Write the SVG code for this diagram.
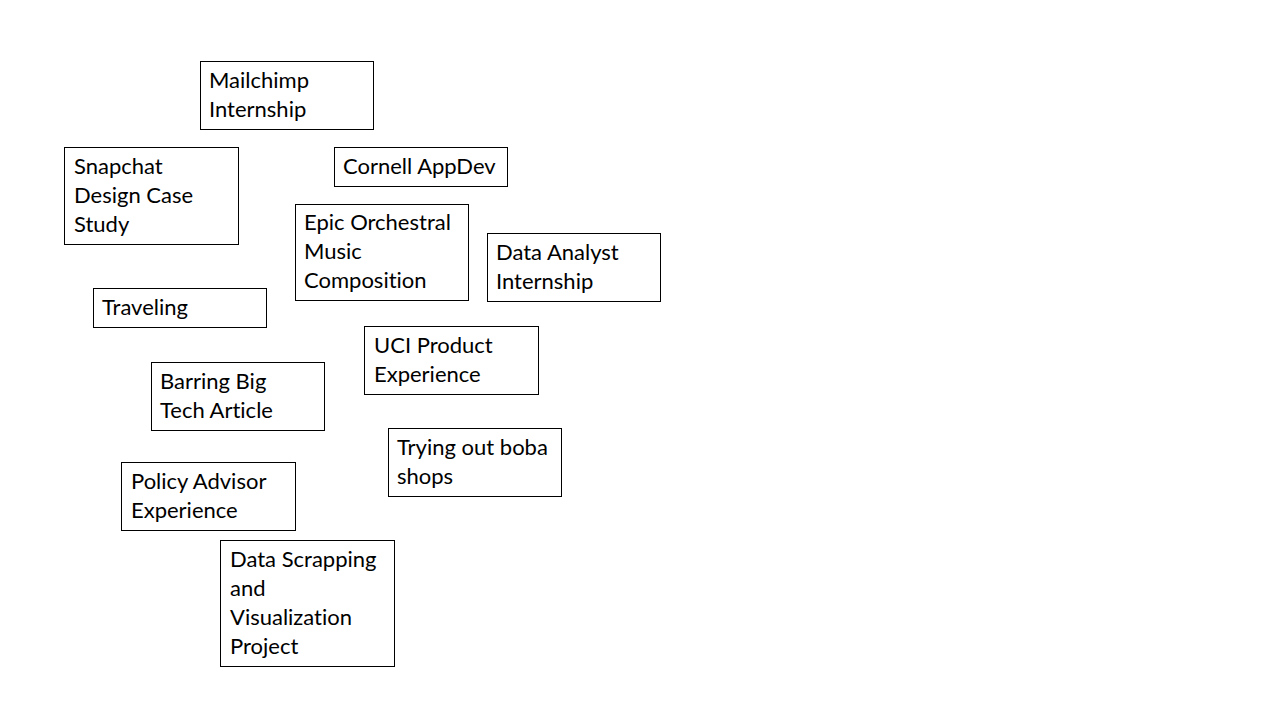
<svg xmlns="http://www.w3.org/2000/svg" width="1280" height="720" viewBox="0 0 1280 720">
<style>
.box{fill:#fff;stroke:#000;stroke-width:1}
.t{font-family:Lato,"Liberation Sans",sans-serif;font-size:22px;fill:#000;font-variant-ligatures:none}
</style>
<rect width="1280" height="720" fill="#fff"/>
<g id="connectors"/>
<g id="mailchimp"><rect class="box" x="200.5" y="61.5" width="173" height="68"/><text class="t" x="209" y="87.5">Mailchimp</text><text class="t" x="209" y="116.5">Internship</text></g>
<g id="snapchat"><rect class="box" x="64.5" y="147.5" width="174" height="97"/><text class="t" x="74" y="173.5">Snapchat</text><text class="t" x="74" y="202.5">Design Case</text><text class="t" x="74" y="231.5">Study</text></g>
<g id="cornell"><rect class="box" x="334.5" y="147.5" width="173" height="39"/><text class="t" x="343" y="173.5">Cornell AppDev</text></g>
<g id="epic"><rect class="box" x="295.5" y="204.5" width="173" height="96"/><text class="t" x="304" y="229.5">Epic Orchestral</text><text class="t" x="304" y="258.5">Music</text><text class="t" x="304" y="287.5">Composition</text></g>
<g id="dataanalyst"><rect class="box" x="487.5" y="233.5" width="173" height="68"/><text class="t" x="496" y="259.5">Data Analyst</text><text class="t" x="496" y="288.5">Internship</text></g>
<g id="traveling"><rect class="box" x="93.5" y="288.5" width="173" height="39"/><text class="t" x="102" y="314.5">Traveling</text></g>
<g id="uci"><rect class="box" x="364.5" y="326.5" width="174" height="68"/><text class="t" x="374" y="352.5">UCI Product</text><text class="t" x="374" y="381.5">Experience</text></g>
<g id="barring"><rect class="box" x="151.5" y="362.5" width="173" height="68"/><text class="t" x="160" y="388.5">Barring Big</text><text class="t" x="160" y="417.5">Tech Article</text></g>
<g id="boba"><rect class="box" x="388.5" y="428.5" width="173" height="68"/><text class="t" x="397" y="454.5">Trying out boba</text><text class="t" x="397" y="483.5">shops</text></g>
<g id="policy"><rect class="box" x="121.5" y="462.5" width="174" height="68"/><text class="t" x="131" y="488.5">Policy Advisor</text><text class="t" x="131" y="517.5">Experience</text></g>
<g id="scrapping"><rect class="box" x="220.5" y="540.5" width="174" height="126"/><text class="t" x="230" y="566.5">Data Scrapping</text><text class="t" x="230" y="595.5">and</text><text class="t" x="230" y="624.5">Visualization</text><text class="t" x="230" y="653.5">Project</text></g>
</svg>
